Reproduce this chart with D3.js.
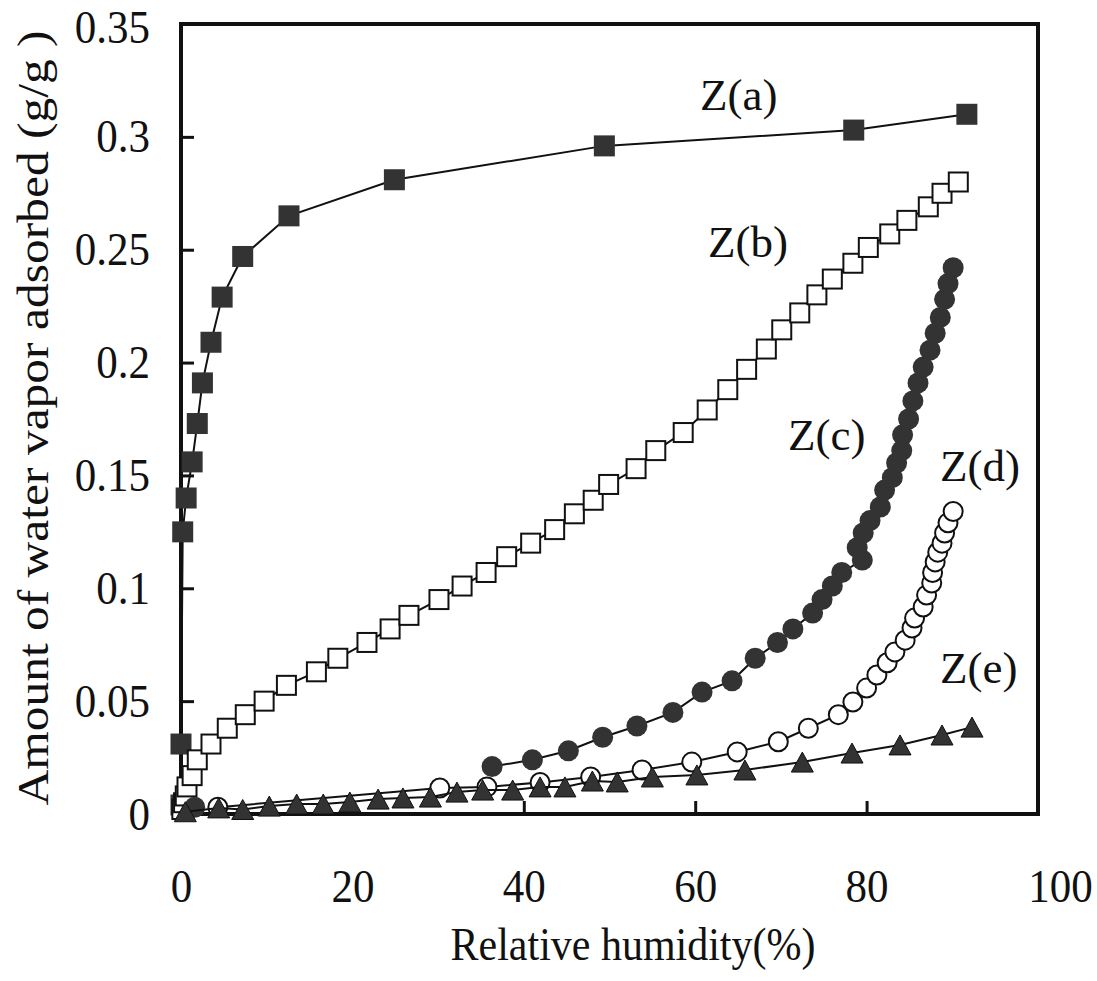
<!DOCTYPE html>
<html>
<head>
<meta charset="utf-8">
<script src="https://cdn.jsdelivr.net/npm/d3@7"></script>
<style>
  html, body { margin: 0; padding: 0; background: #fff; }
</style>
</head>
<body>
<svg id="chart" width="1097" height="981"></svg>
<script>
// Water vapour adsorption isotherms of five samples, Z(a) to Z(e)
const xTicks = [0, 20, 40, 60, 80, 100];
const yTicks = [0, 0.05, 0.1, 0.15, 0.2, 0.25, 0.3, 0.35];

const rhA = [0, 0, 0.2, 0.6, 1.3, 1.9, 2.5, 3.5, 4.8, 7.2, 12.6, 24.9, 49.4, 78.5, 91.7];
const zA  = [0.004, 0.031, 0.125, 0.140, 0.156, 0.173, 0.191, 0.209, 0.229, 0.247, 0.265, 0.281, 0.296, 0.303, 0.310];

const rhB = [0.1, 0.3, 0.5, 0.7, 1.3, 1.9, 3.5, 5.4, 7.5, 9.7, 12.3, 15.8, 18.3, 21.7, 24.4, 26.6, 30.1, 32.8, 35.6, 38.0,
             40.8, 43.6, 45.9, 48.1, 49.9, 53.1, 55.4, 58.6, 61.4, 63.8, 66.0, 68.3, 70.1, 72.2, 74.2, 76.0, 78.4, 80.2,
             82.7, 84.7, 87.2, 88.8, 90.7];
const zB  = [0.002, 0.005, 0.008, 0.012, 0.017, 0.024, 0.031, 0.038, 0.044, 0.050, 0.057, 0.063, 0.069, 0.076, 0.082, 0.088,
             0.095, 0.101, 0.107, 0.114, 0.120, 0.126, 0.133, 0.139, 0.146, 0.153, 0.161, 0.169, 0.179, 0.188, 0.197, 0.206,
             0.2145, 0.222, 0.230, 0.237, 0.244, 0.251, 0.257, 0.263, 0.269, 0.275, 0.280];

// the first Z(c) reading sits apart near the origin and is drawn as a marker only
const rhC = [1.6, 36.3, 41.0, 45.2, 49.2, 53.2, 57.4, 60.8, 64.3, 67.0, 69.6, 71.4, 73.7, 74.8, 76.0, 77.1, 79.5, 78.9,
             79.6, 80.4, 81.6, 82.1, 83.0, 83.5, 84.1, 84.2, 84.9, 85.4, 86.0, 86.6, 87.4, 88.0, 88.6, 89.1, 89.5, 90.1];
const zC  = [0.003, 0.021, 0.024, 0.028, 0.034, 0.039, 0.045, 0.054, 0.059, 0.069, 0.076, 0.082, 0.089, 0.095, 0.101, 0.107,
             0.1125, 0.118, 0.1245, 0.130, 0.136, 0.1435, 0.149, 0.1555, 0.161, 0.168, 0.175, 0.183, 0.191, 0.198, 0.2055,
             0.213, 0.220, 0.228, 0.235, 0.242];

const rhD = [4.3, 30.2, 35.7, 41.9, 47.8, 53.8, 59.6, 64.9, 69.7, 73.2, 76.7, 78.4, 80.0, 81.2, 82.4, 83.3, 84.5, 85.3,
             85.6, 86.6, 87.0, 87.6, 87.7, 88.0, 88.3, 88.8, 89.1, 89.5, 90.1];
const zD  = [0.003, 0.0115, 0.012, 0.014, 0.0164, 0.0195, 0.023, 0.0275, 0.032, 0.038, 0.044, 0.0496, 0.0558, 0.0616,
             0.067, 0.0718, 0.077, 0.0824, 0.0868, 0.0917, 0.097, 0.1023, 0.107, 0.1117, 0.116, 0.120, 0.1245, 0.129, 0.134];

const rhE = [0.5, 4.4, 7.2, 10.3, 13.5, 16.6, 19.7, 23.0, 25.9, 29.1, 32.2, 35.2, 38.7, 41.9, 44.8, 48.0, 50.9, 55.0,
             60.2, 65.8, 72.5, 78.3, 83.9, 88.8, 92.3];
const zE  = [0.001, 0.0027, 0.002, 0.0035, 0.0044, 0.0044, 0.0053, 0.0066, 0.0071, 0.0075, 0.0097, 0.0106, 0.0106,
             0.012, 0.012, 0.0146, 0.0142, 0.0164, 0.0173, 0.0195, 0.023, 0.027, 0.0306, 0.035, 0.0385];

const seriesLabels = ["Z(a)", "Z(b)", "Z(c)", "Z(d)", "Z(e)"];
const xTitle = "Relative humidity(%)";
const yTitle = "Amount of water vapor adsorbed (g/g )";

(function draw() {
  const svg = d3.select("#chart");
  const serif = "'Liberation Serif', 'Times New Roman', serif";
  const pl = 181, pr = 1038, pt = 24, pb = 814;
  const stretch = 1.1; // tall, narrow lettering
  const x = d3.scaleLinear().domain([0, 100]).range([pl, pr]);
  const y = d3.scaleLinear().domain([0, 0.35]).range([pb, pt]);

  const ink = "#111";
  const dark = "#333";

  // axes with inward ticks
  const yAxis = svg.append("g").attr("transform", `translate(${pl},0)`)
    .call(d3.axisLeft(y).tickValues(yTicks).tickSizeInner(-13).tickSizeOuter(0).tickPadding(31)
          .tickFormat(d => d === 0 ? "0" : String(+d.toFixed(2))));
  yAxis.select(".domain").remove();
  yAxis.selectAll(".tick line").attr("stroke", ink).attr("stroke-width", 3)
    .filter(d => d === 0 || d === 0.35).remove();
  yAxis.selectAll(".tick text").attr("font-size", 43).attr("fill", ink)
    .attr("font-family", serif).attr("transform", `scale(1,${stretch})`)
    .attr("dy", d => d === 0.35 ? "0.4em" : "0.32em");

  const xAxis = svg.append("g").attr("transform", `translate(0,${pb})`)
    .call(d3.axisBottom(x).tickValues(xTicks).tickSizeInner(-13).tickSizeOuter(0)
          .tickFormat(d3.format("d")));
  xAxis.select(".domain").remove();
  xAxis.selectAll(".tick line").attr("stroke", ink).attr("stroke-width", 3)
    .filter(d => d === 0 || d === 100).remove();
  xAxis.selectAll(".tick text").attr("font-size", 43).attr("fill", ink)
    .attr("font-family", serif).attr("y", null).attr("dy", null)
    .attr("transform", d => `translate(${d === 100 ? 22 : 0},88) scale(1,${stretch})`);

  // frame
  svg.append("rect").attr("x", pl).attr("y", pt).attr("width", pr - pl).attr("height", pb - pt)
    .attr("fill", "none").attr("stroke", ink).attr("stroke-width", 4);

  // series
  const line = d3.line().x(d => x(d[0])).y(d => y(d[1]));
  const zip = (a, b) => a.map((v, i) => [v, b[i]]);
  const dataA = zip(rhA, zA), dataB = zip(rhB, zB), dataC = zip(rhC, zC), dataD = zip(rhD, zD), dataE = zip(rhE, zE);

  const plot = svg.append("g");
  const sq = 21, r = 10.5, tw = 22, th = 20;
  const triPath = `M0,${-th / 2}L${tw / 2},${th / 2}L${-tw / 2},${th / 2}Z`;
  const trace = ds => plot.append("path").datum(ds).attr("d", line)
    .attr("fill", "none").attr("stroke", ink).attr("stroke-width", 2);

  // Z(a): filled squares
  trace(dataA);
  plot.append("g").selectAll("rect").data(dataA).join("rect")
    .attr("x", d => x(d[0]) - sq / 2).attr("y", d => y(d[1]) - sq / 2)
    .attr("width", sq).attr("height", sq).attr("fill", dark);

  // Z(b): open squares
  trace(dataB);
  plot.append("g").selectAll("rect").data(dataB).join("rect")
    .attr("x", d => x(d[0]) - (sq - 2) / 2).attr("y", d => y(d[1]) - (sq - 2) / 2)
    .attr("width", sq - 2).attr("height", sq - 2)
    .attr("fill", "#fff").attr("stroke", ink).attr("stroke-width", 2);

  // Z(c): filled circles
  trace(dataC.slice(1));
  plot.append("g").selectAll("circle").data(dataC).join("circle")
    .attr("cx", d => x(d[0])).attr("cy", d => y(d[1])).attr("r", r).attr("fill", dark);

  // Z(d): open circles
  trace(dataD);
  plot.append("g").selectAll("circle").data(dataD).join("circle")
    .attr("cx", d => x(d[0])).attr("cy", d => y(d[1])).attr("r", r - 1)
    .attr("fill", "#fff").attr("stroke", ink).attr("stroke-width", 2);

  // Z(e): filled triangles
  trace(dataE);
  plot.append("g").selectAll("path").data(dataE).join("path")
    .attr("d", triPath).attr("transform", d => `translate(${x(d[0])},${y(d[1])})`)
    .attr("fill", dark).attr("stroke", ink).attr("stroke-width", 1);

  // series labels
  const labelPos = [[700, 110], [708, 257], [788, 450], [940, 481], [940, 683]];
  svg.append("g").selectAll("text").data(seriesLabels).join("text")
    .attr("x", (d, i) => labelPos[i][0]).attr("y", (d, i) => labelPos[i][1])
    .attr("font-family", serif).attr("font-size", 45).attr("fill", ink).text(d => d);

  // axis titles
  svg.append("text").attr("transform", `translate(633,960) scale(1,${stretch})`).attr("text-anchor", "middle")
    .attr("font-family", serif).attr("font-size", 42).attr("fill", ink).text(xTitle);
  svg.append("text").attr("transform", `translate(48,418) scale(1,1.1) rotate(-90)`).attr("text-anchor", "middle")
    .attr("font-family", serif).attr("font-size", 45).attr("fill", ink).text(yTitle);
})();
</script>
</body>
</html>
